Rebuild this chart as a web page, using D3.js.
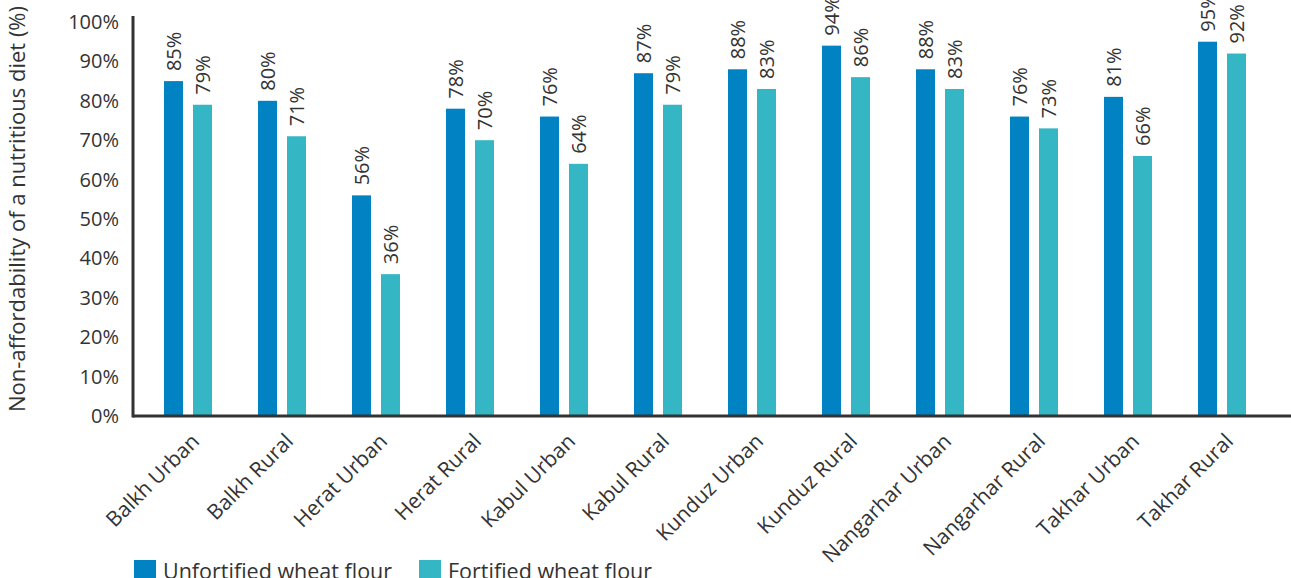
<!DOCTYPE html>
<html>
<head>
<meta charset="utf-8">
<script src="https://cdn.jsdelivr.net/npm/d3@7"></script>
<style>
  body { margin: 0; background: #fff; }
  svg { display: block; font-family: 'Open Sans', sans-serif; }
  text { fill: #333; }
</style>
</head>
<body>
<script>
// Categories and series
const regions = ['Balkh Urban', 'Balkh Rural', 'Herat Urban', 'Herat Rural', 'Kabul Urban', 'Kabul Rural',
  'Kunduz Urban', 'Kunduz Rural', 'Nangarhar Urban', 'Nangarhar Rural', 'Takhar Urban', 'Takhar Rural'];
const unfortified = [85, 80, 56, 78, 76, 87, 88, 94, 88, 76, 81, 95];
const fortified = [79, 71, 36, 70, 64, 79, 83, 86, 83, 73, 66, 92];
const seriesNames = ['Unfortified wheat flour', 'Fortified wheat flour'];
const yTicks = [0, 10, 20, 30, 40, 50, 60, 70, 80, 90, 100];

const width = 1291;
const height = 578;
const colors = ['#0082c3', '#34b6c4'];

const svg = d3.select('body')
  .append('svg')
  .attr('width', width)
  .attr('height', height);

const x = d3.scaleBand().domain(regions).range([141, 1269]).paddingInner(0).paddingOuter(0);
const y = d3.scaleLinear().domain([0, 100]).range([416, 22]);

const barW = 19;
const gap = 10;

// Bars
const series = [unfortified, fortified];
series.forEach(function(vals, s) {
  const g = svg.append('g');
  g.selectAll('rect')
    .data(vals)
    .enter().append('rect')
    .attr('x', (d, i) => x(regions[i]) + x.bandwidth() / 2 - barW - gap / 2 + s * (barW + gap))
    .attr('y', d => y(d))
    .attr('width', barW)
    .attr('height', d => y(0) - y(d))
    .attr('fill', colors[s]);

  // Value labels, rotated
  g.selectAll('text')
    .data(vals)
    .enter().append('text')
    .attr('transform', (d, i) => {
      const cx = x(regions[i]) + x.bandwidth() / 2 - barW / 2 - gap / 2 + s * (barW + gap);
      return 'translate(' + cx + ',' + (y(d) - 10) + ') rotate(-90)';
    })
    .attr('dy', '0.35em')
    .attr('font-size', 20)
    .text(d => d + '%');
});

// Y axis
const yAxis = d3.axisLeft(y).tickValues(yTicks).tickSize(0).tickPadding(14).tickFormat(d => d + '%');
const ya = svg.append('g')
  .attr('transform', 'translate(133,0)')
  .call(yAxis);
ya.select('.domain').remove();
ya.selectAll('text').attr('font-size', 20).attr('fill', '#333').attr('font-family', "'Open Sans', sans-serif");

svg.append('line')
  .attr('x1', 133).attr('x2', 133)
  .attr('y1', 16).attr('y2', y(0) + 1.5)
  .attr('stroke', '#333').attr('stroke-width', 3);

// X axis
svg.append('line')
  .attr('x1', 133).attr('x2', width)
  .attr('y1', y(0)).attr('y2', y(0))
  .attr('stroke', '#333').attr('stroke-width', 3);

svg.append('g')
  .selectAll('text')
  .data(regions)
  .enter().append('text')
  .attr('transform', d => 'translate(' + (x(d) + x.bandwidth() / 2 + 2) + ',' + 432 + ') rotate(-45)')
  .attr('text-anchor', 'end')
  .attr('dy', '0.71em')
  .attr('font-size', 21)
  .text(d => d);

// Y title
svg.append('text')
  .attr('transform', 'translate(17,' + 209 + ') rotate(-90)')
  .attr('text-anchor', 'middle')
  .attr('dy', '0.35em')
  .attr('font-size', 22)
  .text('Non-affordability of a nutritious diet (%)');

// Legend
const legendX = [134, 419];
seriesNames.forEach(function(name, s) {
  svg.append('rect')
    .attr('x', legendX[s]).attr('y', 560)
    .attr('width', 22).attr('height', 22)
    .attr('fill', colors[s]);
  svg.append('text')
    .attr('x', legendX[s] + 29).attr('y', 579)
    .attr('font-size', 21.5)
    .text(name);
});
</script>
</body>
</html>
